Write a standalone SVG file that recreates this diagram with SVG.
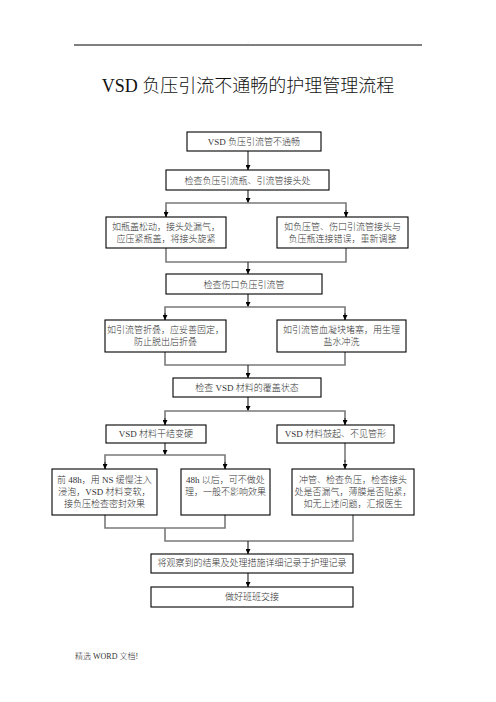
<svg xmlns="http://www.w3.org/2000/svg" width="496" height="702" viewBox="0 0 496 702">
<defs>
<style>
.box{fill:#fff;stroke:#000;stroke-width:1.1}
.t{font-family:"Liberation Serif","Noto Sans CJK SC",serif;font-size:9px;font-weight:300;fill:#333;text-anchor:middle}
.ln{fill:none;stroke:#7a7a7a;stroke-width:1.6}
.ar{fill:none;stroke:#333;stroke-width:1.2;marker-end:url(#ah)}
</style>
<marker id="ah" viewBox="0 0 10 10" refX="10" refY="5" markerWidth="5" markerHeight="5" markerUnits="userSpaceOnUse" orient="auto">
<path d="M0,0 L10,5 L0,10 Z" fill="#000"/>
</marker>
</defs>
<rect width="496" height="702" fill="#fff"/>
<line x1="74" y1="45" x2="422" y2="45" stroke="#000" stroke-width="1"/>
<text x="248" y="43" font-family="Liberation Serif" font-size="5" fill="#999" text-anchor="middle">.</text>
<text x="248" y="92" font-family="Liberation Serif,'Noto Sans CJK SC',serif" font-size="18" font-weight="300" fill="#111" text-anchor="middle">VSD 负压引流不通畅的护理管理流程</text>

<g id="connectors">
<line class="ar" x1="248" y1="151" x2="248" y2="170"/>
<line class="ar" x1="248" y1="190" x2="248" y2="203"/>
<polyline class="ln" points="166,217 166,203 346,203 346,217"/>
<line class="ar" x1="166" y1="210" x2="166" y2="217"/>
<line class="ar" x1="346" y1="210" x2="346" y2="217"/>
<polyline class="ln" points="166,248 166,262 346,262 346,248"/>
<line class="ar" x1="248" y1="262" x2="248" y2="274"/>
<line class="ar" x1="248" y1="294" x2="248" y2="307"/>
<polyline class="ln" points="165,320 165,307 345,307 345,320"/>
<line class="ar" x1="165" y1="313" x2="165" y2="320"/>
<line class="ar" x1="345" y1="313" x2="345" y2="320"/>
<polyline class="ln" points="165,352 165,365 345,365 345,352"/>
<line class="ar" x1="248" y1="365" x2="248" y2="378"/>
<line class="ar" x1="248" y1="397" x2="248" y2="411"/>
<polyline class="ln" points="165,425 165,411 345,411 345,425"/>
<line class="ar" x1="165" y1="418" x2="165" y2="425"/>
<line class="ar" x1="345" y1="418" x2="345" y2="425"/>
<line class="ar" x1="165" y1="443" x2="165" y2="455"/>
<polyline class="ln" points="105,469 105,455 225,455 225,469"/>
<line class="ar" x1="105" y1="462" x2="105" y2="469"/>
<line class="ar" x1="225" y1="462" x2="225" y2="469"/>
<line class="ln" x1="345" y1="443" x2="345" y2="462"/>
<line class="ar" x1="345" y1="460" x2="345" y2="469"/>
<polyline class="ln" points="105,515 105,528 225,528 225,515"/>
<polyline class="ln" points="165,528 165,541 353,541 353,515"/>
<line class="ar" x1="248" y1="541" x2="248" y2="554"/>
<line class="ar" x1="248" y1="573" x2="248" y2="587"/>
</g>

<g id="n1"><rect class="box" x="187" y="132" width="134" height="19"/><text class="t" x="254" y="145">VSD 负压引流管不通畅</text></g>
<g id="n2"><rect class="box" x="166" y="170" width="163" height="20"/><text class="t" x="247.5" y="184">检查负压引流瓶、引流管接头处</text></g>
<g id="n3"><rect class="box" x="106" y="217" width="120" height="31"/><text class="t" x="166" y="230">如瓶盖松动，接头处漏气，</text><text class="t" x="166" y="242">应压紧瓶盖，将接头旋紧</text></g>
<g id="n4"><rect class="box" x="277" y="217" width="131" height="31"/><text class="t" x="342.5" y="230">如负压管、伤口引流管接头与</text><text class="t" x="342.5" y="242">负压瓶连接错误，重新调整</text></g>
<g id="n5"><rect class="box" x="166" y="274" width="156" height="20"/><text class="t" x="244" y="288">检查伤口负压引流管</text></g>
<g id="n6"><rect class="box" x="105" y="320" width="121" height="32"/><text class="t" x="165.5" y="333">如引流管折叠，应妥善固定，</text><text class="t" x="165.5" y="345">防止脱出后折叠</text></g>
<g id="n7"><rect class="box" x="277" y="320" width="129" height="32"/><text class="t" x="341.5" y="333">如引流管血凝块堵塞，用生理</text><text class="t" x="341.5" y="345">盐水冲洗</text></g>
<g id="n8"><rect class="box" x="173" y="378" width="148" height="19"/><text class="t" x="247" y="391">检查 VSD 材料的覆盖状态</text></g>
<g id="n9"><rect class="box" x="106" y="425" width="100" height="18"/><text class="t" x="156" y="437">VSD 材料干结变硬</text></g>
<g id="n10"><rect class="box" x="277" y="425" width="117" height="18"/><text class="t" x="335.5" y="437">VSD 材料鼓起、不见管形</text></g>
<g id="n11"><rect class="box" x="52" y="469" width="105" height="46"/><text class="t" x="104.5" y="483">前 48h，用 NS 缓慢注入</text><text class="t" x="104.5" y="495">浸泡，VSD 材料变软，</text><text class="t" x="104.5" y="507">接负压检查密封效果</text></g>
<g id="n12"><rect class="box" x="181" y="469" width="89" height="46"/><text class="t" x="225.5" y="483">48h 以后，可不做处</text><text class="t" x="225.5" y="495">理，一般不影响效果</text></g>
<g id="n13"><rect class="box" x="292" y="469" width="122" height="46"/><text class="t" x="353" y="483">冲管、检查负压，检查接头</text><text class="t" x="353" y="495">处是否漏气，薄膜是否贴紧，</text><text class="t" x="353" y="507">如无上述问题，汇报医生</text></g>
<g id="n14"><rect class="box" x="151" y="554" width="202" height="19"/><text class="t" x="252" y="566">将观察到的结果及处理措施详细记录于护理记录</text></g>
<g id="n15"><rect class="box" x="151" y="587" width="202" height="20"/><text class="t" x="252" y="600">做好班班交接</text></g>

<text x="75" y="659" font-family="Liberation Serif,'Noto Sans CJK SC',serif" font-size="8" font-weight="300" fill="#333">精选 WORD 文档!</text>
</svg>
